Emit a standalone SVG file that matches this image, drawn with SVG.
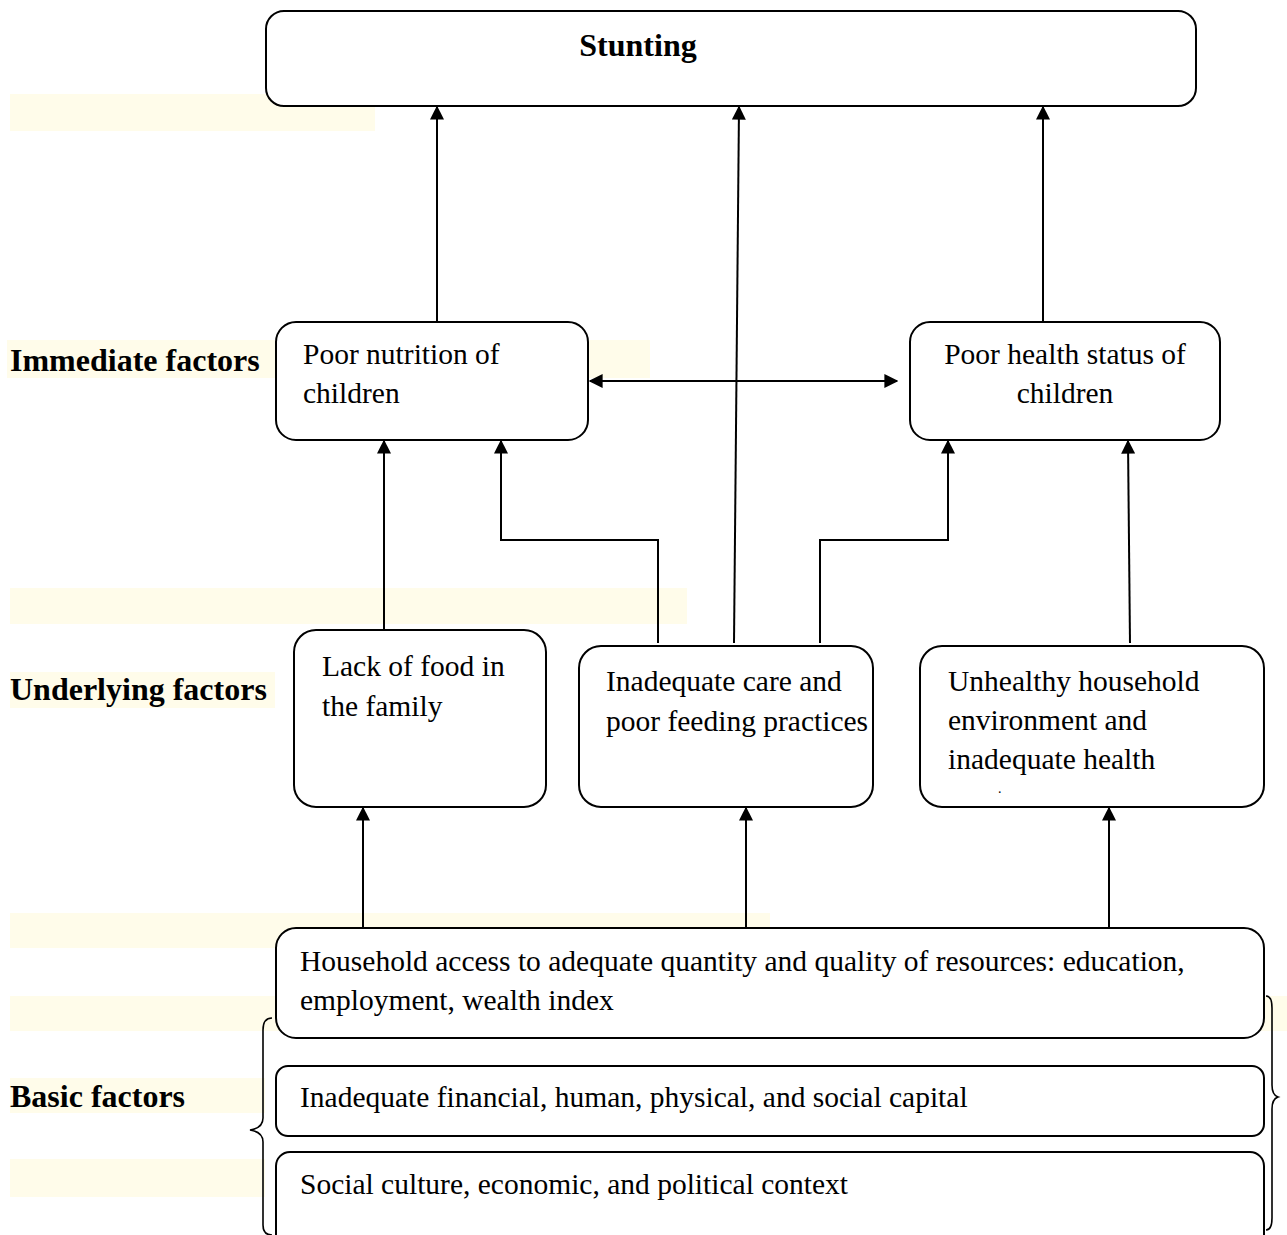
<svg xmlns="http://www.w3.org/2000/svg" width="1287" height="1235" viewBox="0 0 1287 1235">
<defs>
<style>
.band{fill:#FFFCEA;}
.box{fill:#fff;stroke:#000;stroke-width:2;}
.t{font-family:"Liberation Serif","Times New Roman",serif;font-size:29.5px;fill:#000;}
.lbl{font-family:"Liberation Serif","Times New Roman",serif;font-size:32px;font-weight:bold;fill:#000;}
.con{fill:none;stroke:#000;stroke-width:2;}
.brace{fill:none;stroke:#000;stroke-width:1.6;}
</style>
<marker id="ah" viewBox="0 0 10 10" refX="9" refY="5" markerWidth="14" markerHeight="14" markerUnits="userSpaceOnUse" orient="auto-start-reverse">
<path d="M0,0 L10,5 L0,10 Z" fill="#000"/>
</marker>
</defs>
<rect width="1287" height="1235" fill="#fff"/>
<g id="bands">
<rect class="band" x="10" y="94" width="365" height="37"/>
<rect class="band" x="7" y="340" width="643" height="38"/>
<rect class="band" x="10" y="588" width="677" height="36"/>
<rect class="band" x="10" y="672" width="265" height="36"/>
<rect class="band" x="10" y="913" width="760" height="35"/>
<rect class="band" x="10" y="996" width="1277" height="35"/>
<rect class="band" x="10" y="1078" width="255" height="35"/>
<rect class="band" x="10" y="1159" width="255" height="38"/>
</g>
<g id="labels">
<text class="lbl" x="10" y="371">Immediate factors</text>
<text class="lbl" x="10" y="700">Underlying factors</text>
<text class="lbl" x="10" y="1107">Basic factors</text>
</g>
<g id="connectors">
<line class="con" x1="437" y1="322" x2="437" y2="107" marker-end="url(#ah)"/>
<line class="con" x1="1043" y1="322" x2="1043" y2="107" marker-end="url(#ah)"/>
<line class="con" x1="734" y1="643" x2="739" y2="107" marker-end="url(#ah)"/>
<line class="con" x1="590" y1="381" x2="897" y2="381" marker-start="url(#ah)" marker-end="url(#ah)"/>
<line class="con" x1="384" y1="630" x2="384" y2="441" marker-end="url(#ah)"/>
<polyline class="con" points="658,643 658,540 501,540 501,441" marker-end="url(#ah)"/>
<polyline class="con" points="820,643 820,540 948,540 948,441" marker-end="url(#ah)"/>
<line class="con" x1="1130" y1="643" x2="1128" y2="441" marker-end="url(#ah)"/>
<line class="con" x1="363" y1="928" x2="363" y2="808" marker-end="url(#ah)"/>
<line class="con" x1="746" y1="928" x2="746" y2="808" marker-end="url(#ah)"/>
<line class="con" x1="1109" y1="928" x2="1109" y2="808" marker-end="url(#ah)"/>
</g>
<g id="stunting">
<rect class="box" x="266" y="11" width="930" height="95" rx="18"/>
<text class="lbl" x="638" y="56" text-anchor="middle">Stunting</text>
</g>
<g id="poor-nutrition">
<rect class="box" x="276" y="322" width="312" height="118" rx="20"/>
<text class="t" x="303" y="364">Poor nutrition of</text>
<text class="t" x="303" y="403">children</text>
</g>
<g id="poor-health">
<rect class="box" x="910" y="322" width="310" height="118" rx="20"/>
<text class="t" x="1065" y="364" text-anchor="middle">Poor health status of</text>
<text class="t" x="1065" y="403" text-anchor="middle">children</text>
</g>
<g id="lack-food">
<rect class="box" x="294" y="630" width="252" height="177" rx="22"/>
<text class="t" x="322" y="676">Lack of food in</text>
<text class="t" x="322" y="716">the family</text>
</g>
<g id="inadequate-care">
<rect class="box" x="579" y="646" width="294" height="161" rx="22"/>
<text class="t" x="606" y="691">Inadequate care and</text>
<text class="t" x="606" y="731">poor feeding practices</text>
</g>
<g id="unhealthy">
<rect class="box" x="920" y="646" width="344" height="161" rx="22"/>
<text class="t" x="948" y="691">Unhealthy household</text>
<text class="t" x="948" y="730">environment and</text>
<text class="t" x="948" y="769">inadequate health</text>
<text class="t" x="998" y="793" style="font-size:14px">.</text>
</g>
<g id="household">
<rect class="box" x="276" y="928" width="988" height="110" rx="20"/>
<text class="t" x="300" y="971">Household access to adequate quantity and quality of resources: education,</text>
<text class="t" x="300" y="1010">employment, wealth index</text>
</g>
<g id="capital">
<rect class="box" x="276" y="1066" width="988" height="70" rx="12"/>
<text class="t" x="300" y="1107">Inadequate financial, human, physical, and social capital</text>
</g>
<g id="context">
<rect class="box" x="276" y="1152" width="988" height="100" rx="14"/>
<text class="t" x="300" y="1194">Social culture, economic, and political context</text>
</g>
<g id="braces">
<path class="brace" d="M272,1018 Q263,1018 263,1030 L263,1118 Q263,1128 250,1130 Q263,1132 263,1142 L263,1225 Q263,1235 272,1235"/>
<path class="brace" d="M1266,996 Q1272,996 1272,1008 L1272,1085 Q1272,1095 1278,1097 Q1272,1099 1272,1109 L1272,1218 Q1272,1230 1266,1230"/>
</g>
</svg>
